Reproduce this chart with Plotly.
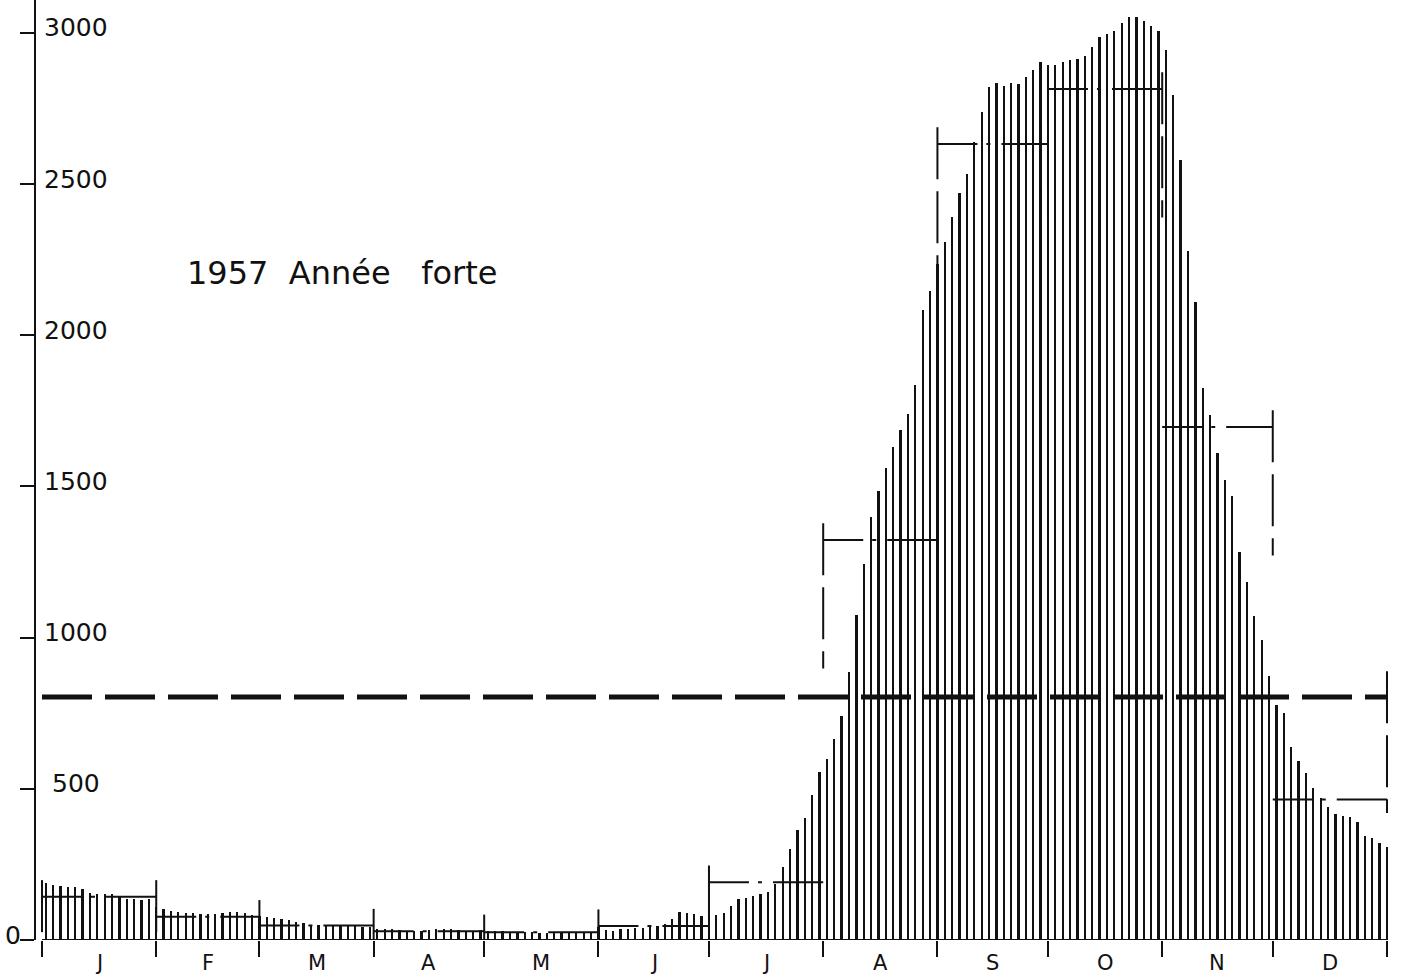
import plotly.graph_objects as go

# ---------------- data ----------------
month_labels = ["J", "F", "M", "A", "M", "J", "J", "A", "S", "O", "N", "D"]
month_start_days = [0, 31, 59, 90, 120, 151, 181, 212, 243, 273, 304, 334, 365]

# discharge read every second day (odd days of the year)
jan = [188, 181, 178, 176, 174, 168, 156, 152, 151, 151, 146, 136, 134, 132, 134]
feb = [110, 103, 97, 92, 90, 89, 86, 85, 86, 90, 91, 91, 89, 84]
mar = [80, 76, 74, 71, 66, 60, 55, 50, 48, 47, 46, 46, 45, 45, 44, 43]
apr = [37, 36, 35, 33, 31, 31, 29, 32, 36, 35, 36, 32, 29, 31, 32]
may = [31, 29, 29, 28, 27, 26, 25, 23, 23, 22, 23, 25, 26, 27, 28]
jun = [43, 33, 31, 35, 37, 41, 41, 46, 47, 52, 70, 92, 88, 87, 79]
jul = [80, 83, 90, 112, 135, 139, 147, 153, 158, 185, 240, 300, 364, 405, 480, 555]
aug = [600, 665, 740, 886, 1075, 1245, 1400, 1485, 1560, 1630, 1688, 1740, 1834, 2085, 2145]
sep = [2237, 2310, 2392, 2470, 2535, 2640, 2740, 2820, 2835, 2825, 2835, 2832, 2855, 2878, 2905]
oct_ = [2895, 2893, 2905, 2911, 2915, 2925, 2955, 2985, 2995, 3008, 3033, 3053, 3052, 3040, 3023, 3007]
nov = [2945, 2795, 2580, 2280, 2110, 1825, 1737, 1612, 1520, 1468, 1283, 1184, 1072, 992, 873]
dec = [777, 751, 638, 592, 552, 503, 470, 440, 417, 410, 407, 390, 344, 337, 321, 308]

monthly_means = [143, 77, 48, 29, 26, 46, 191, 1323, 2633, 2815, 1697, 465]
annual_mean = 804

y_tick_values = [0, 500, 1000, 1500, 2000, 2500, 3000]
title_text = "1957  Année   forte"

flow = jan + feb + mar + apr + may + jun + jul + aug + sep + oct_ + nov + dec
days = [1 + 2 * i for i in range(len(flow))]

# ---------------- figure ----------------
FONT = "DejaVu Sans"
INK = "#111111"

fig = go.Figure()

fig.add_trace(go.Bar(
    x=days, y=flow, width=0.62,
    marker=dict(color=INK, line=dict(width=0)),
    showlegend=False, hoverinfo="skip",
))

# baseline
fig.add_trace(go.Scatter(
    x=[month_start_days[0], month_start_days[-1]], y=[0, 0],
    mode="lines", line=dict(color=INK, width=2),
    showlegend=False, hoverinfo="skip", cliponaxis=False,
))

# monthly means (dash-dot segments)
for i, m in enumerate(monthly_means):
    fig.add_trace(go.Scatter(
        x=[month_start_days[i], month_start_days[i + 1]], y=[m, m],
        mode="lines", line=dict(color=INK, width=2, dash="40px,9px,4px,11px,70px,20px"),
        showlegend=False, hoverinfo="skip",
    ))

# step ticks at the month boundaries
overshoot = 55
drop = 480
for j in range(12):
    prev = monthly_means[j - 1] if j > 0 else monthly_means[0]
    top = max(prev, monthly_means[j]) + overshoot
    fig.add_trace(go.Scatter(
        x=[month_start_days[j], month_start_days[j]], y=[top, max(top - drop, 0)],
        mode="lines", line=dict(color=INK, width=2, dash="52px,12px"),
        showlegend=False, hoverinfo="skip",
    ))

# end tick of December / annual line
fig.add_trace(go.Scatter(
    x=[month_start_days[-1], month_start_days[-1]],
    y=[annual_mean + 85, monthly_means[-1] - 45],
    mode="lines", line=dict(color=INK, width=2, dash="52px,12px"),
    showlegend=False, hoverinfo="skip", cliponaxis=False,
))

# annual mean
fig.add_trace(go.Scatter(
    x=[month_start_days[0], month_start_days[-1]], y=[annual_mean, annual_mean],
    mode="lines", line=dict(color=INK, width=5, dash="50px,13px"),
    showlegend=False, hoverinfo="skip",
))

annotations = []
# month letters
for i, lab in enumerate(month_labels):
    annotations.append(dict(
        x=(month_start_days[i] + month_start_days[i + 1]) / 2, xref="x",
        y=0, yref="paper", yanchor="top", yshift=-9,
        text=lab, showarrow=False,
        font=dict(family=FONT, size=21, color=INK),
    ))
# y tick labels
for v in y_tick_values:
    if v == 0:
        annotations.append(dict(
            x=0, xref="paper", xanchor="right", xshift=-13,
            y=v, yref="y", yanchor="middle", yshift=5,
            text=str(v), showarrow=False,
            font=dict(family=FONT, size=25, color=INK),
        ))
    else:
        annotations.append(dict(
            x=0, xref="paper", xanchor="left", xshift=6 if v >= 1000 else 14,
            y=v, yref="y", yanchor="middle", yshift=5,
            text=str(v), showarrow=False,
            font=dict(family=FONT, size=25, color=INK),
        ))
# title
annotations.append(dict(
    x=38.8, xref="x", xanchor="left",
    y=2206, yref="y", yanchor="middle",
    text=title_text, showarrow=False,
    font=dict(family=FONT, size=32, color=INK),
))

fig.update_layout(
    width=1404, height=976,
    margin=dict(l=36, r=12, t=0, b=36),
    paper_bgcolor="white", plot_bgcolor="white",
    bargap=0,
    annotations=annotations,
    xaxis=dict(
        range=[-1.63, 366.36], showgrid=False, zeroline=False, showline=False,
        tickmode="array", tickvals=month_start_days, ticks="outside",
        ticklen=16, tickwidth=2, tickcolor=INK, showticklabels=False,
    ),
    yaxis=dict(
        range=[0, 3109], showgrid=False, zeroline=False,
        showline=True, linewidth=2, linecolor=INK,
        tickmode="array", tickvals=y_tick_values, ticks="outside",
        ticklen=14, tickwidth=2, tickcolor=INK, showticklabels=False,
    ),
)

fig.write_html(
    "out.html",
    config={"displayModeBar": False},
    post_script="document.body.style.margin='0';document.body.style.padding='0';",
)
